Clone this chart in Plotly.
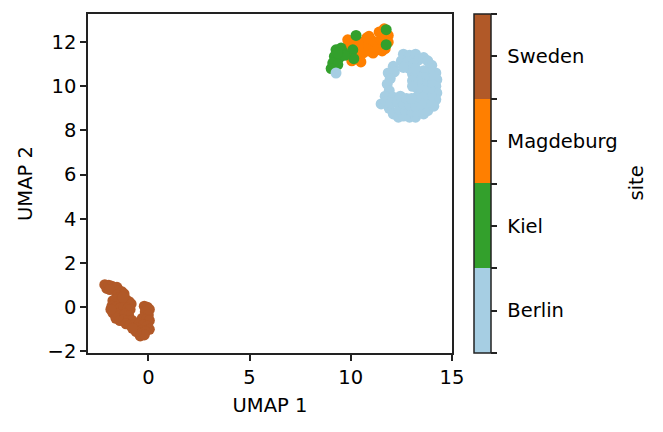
import plotly.graph_objects as go

sites = ["Berlin", "Kiel", "Magdeburg", "Sweden"]
site_colors = ["#a6cee3", "#33a02c", "#ff7f00", "#b15928"]

sweden_x = [-2.15, -2.05, -1.95, -1.8, -1.7, -1.55, -1.45, -1.3, -1.2, -1.9,
            -1.55, -1.4,
            -1.75, -1.6, -1.45, -1.3, -1.1, -0.95, -0.85, -1.8, -1.6, -1.4, -1.2, -1.0, -0.9,
            -1.75, -1.55, -1.35, -1.15, -0.97, -1.6, -1.4, -1.2, -1.0, -0.8, -1.1, -0.9, -0.7,
            -0.2, -0.05, 0.05, -0.15, 0.0, -0.3, -0.1, 0.05, -0.45, -0.25, -0.05, 0.05,
            -0.55, -0.35, -0.15, -0.4, -0.2, -0.6, -1.85, -0.78, -1.25]
sweden_y = [1.02, 0.85, 1.0, 0.95, 0.85, 0.9, 0.75, 0.7, 0.6, 0.8,
            0.55, 0.45,
            0.3, 0.35, 0.25, 0.3, 0.35, 0.25, 0.15, 0.05, 0.0, -0.05, 0.0, -0.05, -0.1,
            -0.25, -0.3, -0.35, -0.3, -0.38, -0.5, -0.6, -0.55, -0.6, -0.6, -0.75, -0.8, -0.8,
            0.05, 0.0, -0.1, -0.2, -0.35, -0.5, -0.55, -0.6, -0.75, -0.8, -0.85, -1.0,
            -0.95, -1.05, -1.1, -1.3, -1.25, -1.1, -0.1, -0.95, 0.45]

magdeburg_x = [9.8, 9.9, 10.0, 10.1, 10.2, 10.05, 10.3, 10.35, 10.45,
               10.6, 10.7, 10.6, 10.85, 10.9, 11.0, 11.1, 10.8, 11.2, 11.1, 10.5,
               11.4, 11.5, 11.6, 11.65, 11.85, 11.85, 11.7, 11.4, 11.3, 11.55, 9.85, 10.9]
magdeburg_y = [11.6, 11.85, 11.4, 11.7, 11.95, 11.15, 11.3, 11.6, 11.85,
               11.5, 11.75, 12.0, 11.6, 11.9, 12.1, 11.75, 12.2, 12.0, 11.5, 11.1,
               11.8, 12.1, 12.35, 12.6, 12.3, 12.0, 11.7, 12.45, 11.65, 11.6, 12.1, 12.26]

kiel_x = [11.75, 11.75, 10.26, 10.1, 10.15,
          9.27, 9.52, 9.19, 9.43, 9.11, 9.36, 9.03, 9.6, 9.7, 9.35]
kiel_y = [12.56, 11.88, 12.3, 11.65, 11.25,
          11.65, 11.73, 11.35, 11.28, 11.05, 10.98, 10.8, 11.55, 11.4, 11.5]

berlin_x = [12.6, 12.9, 13.2, 13.35, 12.5, 12.8, 13.1, 13.6, 13.8, 14.0,
            12.1, 11.85, 12.15, 11.95,
            11.8, 11.9, 11.7, 11.5, 11.75, 11.9, 12.1, 12.0,
            12.1, 12.35, 12.6, 12.9, 13.2, 12.4, 12.7, 13.0, 13.3, 13.6, 13.8,
            12.3, 12.6, 12.9, 13.2, 12.45, 12.75,
            14.2, 14.25, 14.2, 14.25, 14.2, 14.1, 13.9, 13.95, 13.9, 13.95, 13.95, 13.9,
            13.6, 13.6, 13.55, 13.6, 13.55, 13.5, 13.25, 13.3, 13.3, 13.25, 13.05, 13.05,
            13.05, 13.0, 12.9, 13.2, 12.6, 9.27]
berlin_y = [11.45, 11.4, 11.45, 11.2, 11.15, 11.1, 11.0, 11.3, 11.15, 10.95,
            10.9, 10.6, 10.65, 10.35,
            10.1, 9.8, 9.55, 9.2, 9.3, 9.0, 9.5, 9.25,
            8.75, 8.6, 8.65, 8.6, 8.6, 8.95, 8.9, 8.85, 8.8, 8.75, 8.9,
            9.3, 9.2, 9.15, 9.1, 9.55, 9.45,
            10.6, 10.3, 10.0, 9.7, 9.4, 9.1, 9.3, 9.6, 9.9, 10.2, 10.5, 10.8,
            10.7, 10.4, 10.1, 9.8, 9.5, 9.2, 10.5, 10.2, 9.9, 9.5, 10.55, 10.25,
            10.0, 9.45, 10.8, 10.8, 10.85, 10.6]

x_ticks = [0, 5, 10, 15]
y_ticks = [-2, 0, 2, 4, 6, 8, 10, 12]

FONT = "DejaVu Sans"
FS = 19.5
AXC = "#222222"

n = len(sites)
colorscale = []
for i, c in enumerate(site_colors):
    colorscale.append([i / n, c])
    colorscale.append([(i + 1) / n, c])

cb_vals = []
cb_text = []
for i, s in enumerate(sites):
    cb_vals += [i - 0.5, i]
    cb_text += ["", " " + s]
cb_vals.append(n - 0.5)
cb_text.append("")

series = [
    ("Magdeburg", magdeburg_x, magdeburg_y),
    ("Kiel", kiel_x, kiel_y),
    ("Berlin", berlin_x, berlin_y),
    ("Sweden", sweden_x, sweden_y),
]

fig = go.Figure()
for k, (name, xs, ys) in enumerate(series):
    code = sites.index(name)
    marker = dict(
        size=11,
        color=[code] * len(xs),
        colorscale=colorscale,
        cmin=-0.5,
        cmax=n - 0.5,
        line=dict(width=0),
        opacity=1,
    )
    if k == 0:
        marker.update(
            showscale=True,
            colorbar=dict(
                x=(474 - 88) / 364,
                xanchor="left",
                xpad=0,
                ypad=0,
                y=0.5,
                yanchor="middle",
                len=1,
                lenmode="fraction",
                thickness=17,
                outlinewidth=1.5,
                outlinecolor=AXC,
                tickmode="array",
                tickvals=cb_vals,
                ticktext=cb_text,
                ticks="outside",
                ticklen=6,
                tickwidth=1.5,
                tickcolor=AXC,
                tickfont=dict(family=FONT, size=FS, color="black"),
            ),
        )
    fig.add_trace(go.Scatter(x=xs, y=ys, mode="markers", name=name,
                             marker=marker, showlegend=False))

axis_common = dict(
    showgrid=False,
    zeroline=False,
    showline=True,
    linecolor=AXC,
    linewidth=1.5,
    mirror=True,
    ticks="outside",
    ticklen=6,
    tickwidth=1.5,
    tickcolor=AXC,
    tickfont=dict(family=FONT, size=FS, color="black"),
)

fig.update_layout(
    width=663,
    height=432,
    margin=dict(l=88, r=211, t=14, b=79),
    paper_bgcolor="white",
    plot_bgcolor="white",
    font=dict(family=FONT, size=FS, color="black"),
    xaxis=dict(range=[-2.98, 15.0], tickvals=x_ticks,
               title=dict(text="UMAP 1", standoff=10,
                          font=dict(family=FONT, size=FS, color="black")),
               **axis_common),
    yaxis=dict(range=[-2.07, 13.27], tickvals=y_ticks,
               title=dict(text="UMAP 2", standoff=10,
                          font=dict(family=FONT, size=FS, color="black")),
               **axis_common),
    annotations=[dict(
        text="site", textangle=-90, showarrow=False,
        xref="paper", yref="paper", x=(636 - 88) / 364, y=0.5,
        xanchor="center", yanchor="middle",
        font=dict(family=FONT, size=FS, color="black"),
    )],
)

fig.write_html("out.html")
